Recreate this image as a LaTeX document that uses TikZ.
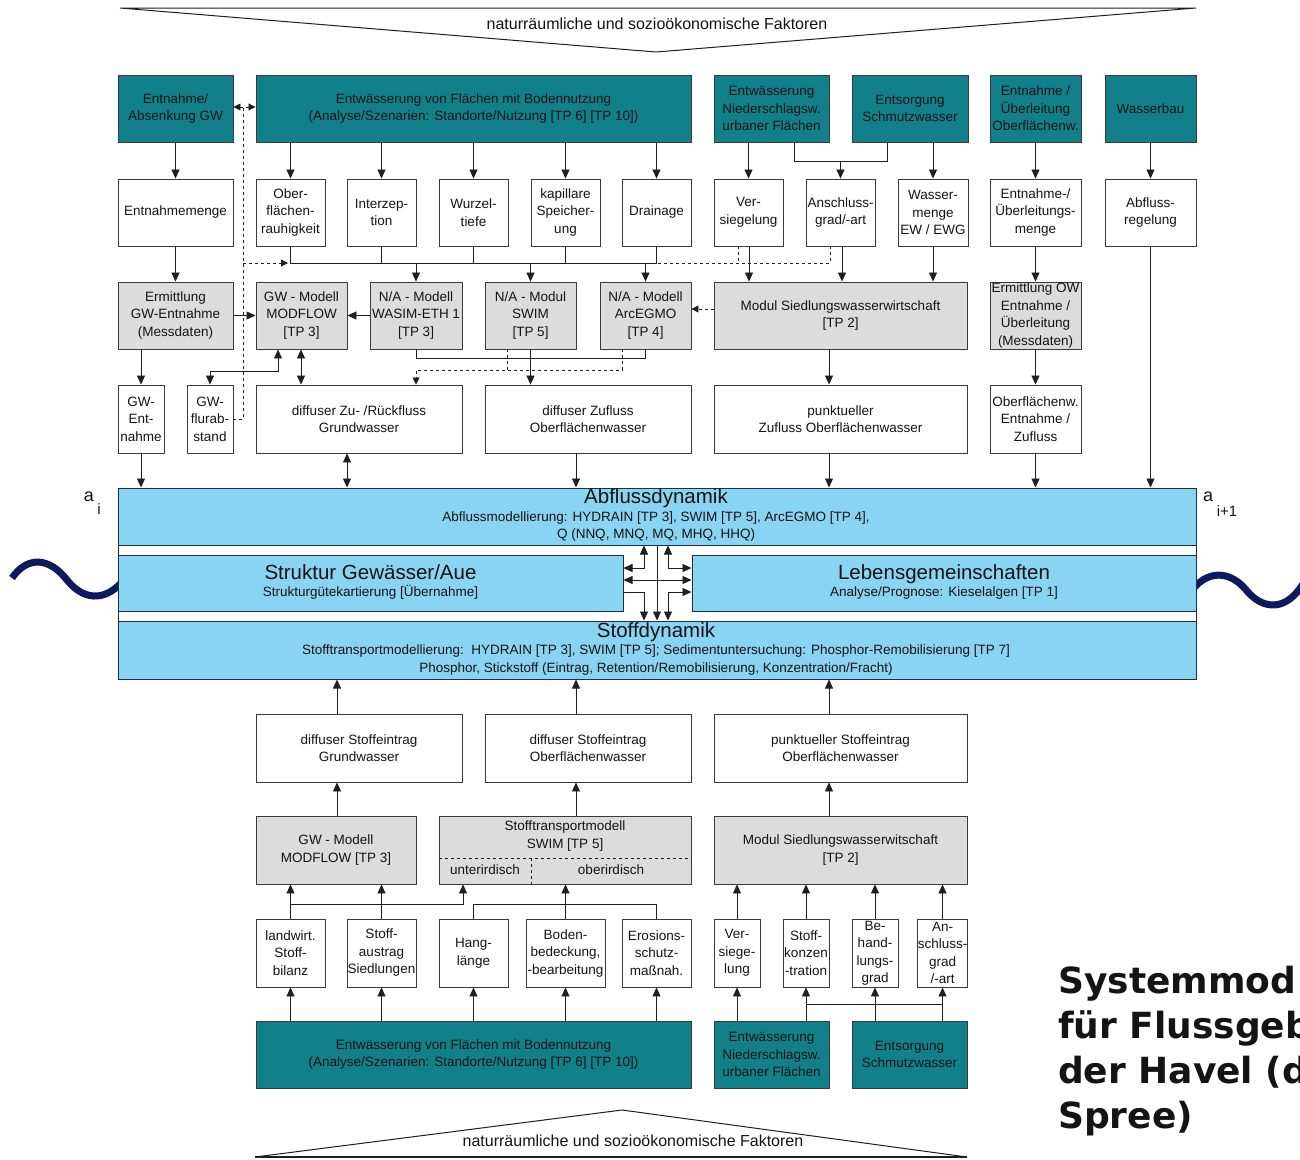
\documentclass[tikz,border=0pt]{standalone}
\usepackage{fontspec}
\setmainfont{Liberation Sans}
\newfontfamily\titlefont{DejaVu Sans}
\usetikzlibrary{arrows.meta}
\definecolor{teal2}{HTML}{12808A}
\definecolor{gbg}{HTML}{DCDCDC}
\definecolor{lblue}{HTML}{89D3F3}
\definecolor{navy2}{HTML}{0B1B5E}
\definecolor{bord}{HTML}{3A3A3A}
\definecolor{bandbord}{HTML}{1E2E48}
\newcommand\fsn{\fontsize{13.5}{17.5}\selectfont}
\newcommand\fsh{\fontsize{16}{19}\selectfont}
\newcommand\fst{\fontsize{20.5}{24}\selectfont}
\newcommand\mybox[7]{\node[#1, minimum width={(#5)-(#3)}, minimum height={(#6)-(#4)}] (#2) at ({((#3)+(#5))/2},{((#4)+(#6))/2}) {#7};}
\begin{document}
\begin{tikzpicture}[x=1pt,y=-1pt,
  every node/.style={inner sep=0pt, align=center, font=\fsn, text=black!92},
  basebox/.style={draw=bord, line width=0.9pt},
  tbox/.style={basebox, fill=teal2},
  wbox/.style={basebox, fill=white},
  gbox/.style={basebox, fill=gbg},
  bband/.style={draw=bandbord, line width=1pt, fill=lblue},
  con/.style={line width=0.8pt, draw=black!88},
  arr/.style={con, -{Triangle[length=9pt,width=8pt]}},
  darr/.style={con, {Triangle[length=9pt,width=8pt]}-{Triangle[length=9pt,width=8pt]}},
  dsh/.style={con, dash pattern=on 3pt off 3pt},
  sarr/.style={-{Triangle[length=7pt,width=7pt]}},
  dsarr/.style={{Triangle[length=7pt,width=7pt]}-{Triangle[length=7pt,width=7pt]}},
]
\useasboundingbox (0,0) rectangle (1300,1159);
\clip (0,0) rectangle (1300,1159);
\fill[white] (0,0) rectangle (1300,1159);

% header / footer
\draw[con, line width=1pt] (120,8) -- (1196,8) -- (656,52) -- cycle;
\node[anchor=base, font=\fsh] (hdr) at (657,29) {naturräumliche und sozioökonomische Faktoren};
\draw[con, line width=1pt] (255,1157) -- (622,1110) -- (967,1157);
\draw[con, line width=2pt] (255,1157) -- (967,1157);
\node[anchor=base, font=\fsh] (ftr) at (633,1146) {naturräumliche und sozioökonomische Faktoren};

% row 1
\mybox{tbox}{EA}{118}{75}{233}{142}{Entnahme/\\Absenkung GW}
\mybox{tbox}{EF}{256}{75}{691}{142}{Entwässerung von Flächen mit Bodennutzung\\(Analyse/Szenarien: Standorte/Nutzung [TP 6] [TP 10])}
\mybox{tbox}{EN}{714}{75}{829}{142}{Entwässerung\\Niederschlagsw.\\urbaner Flächen}
\mybox{tbox}{ES}{852}{75}{968}{142}{Entsorgung\\Schmutzwasser}
\mybox{tbox}{EU}{990}{75}{1081}{142}{Entnahme /\\Überleitung\\Oberflächenw.}
\mybox{tbox}{WB}{1105}{75}{1196}{142}{Wasserbau}
% row 2
\mybox{wbox}{EM}{118}{179}{233}{246}{Entnahmemenge}
\mybox{wbox}{OB}{256}{179}{325}{246}{Ober-\\flächen-\\rauhigkeit}
\mybox{wbox}{IZ}{347}{179}{416}{246}{Interzep-\\tion}
\mybox{wbox}{WT}{439}{179}{508}{246}{Wurzel-\\tiefe}
\mybox{wbox}{KS}{531}{179}{600}{246}{kapillare\\Speicher-\\ung}
\mybox{wbox}{DR}{622}{179}{691}{246}{Drainage}
\mybox{wbox}{VS}{714}{179}{783}{246}{Ver-\\siegelung}
\mybox{wbox}{AG}{806}{179}{875}{246}{Anschluss-\\grad/-art}
\mybox{wbox}{WM}{898}{179}{968}{246}{Wasser-\\menge\\EW / EWG}
\mybox{wbox}{UM}{990}{179}{1081}{246}{Entnahme-/\\Überleitungs-\\menge}
\mybox{wbox}{AR}{1105}{179}{1196}{246}{Abfluss-\\regelung}
% row 3
\mybox{gbox}{EG}{118}{282}{233}{349}{Ermittlung\\GW-Entnahme\\(Messdaten)}
\mybox{gbox}{MF}{256}{282}{347}{349}{GW - Modell\\MODFLOW\\{}[TP 3]}
\mybox{gbox}{WA}{370}{282}{462}{349}{N/A - Modell\\WASIM-ETH 1\\{}[TP 3]}
\mybox{gbox}{SW}{485}{282}{576}{349}{N/A - Modul\\SWIM\\{}[TP 5]}
\mybox{gbox}{AE}{600}{282}{691}{349}{N/A - Modell\\ArcEGMO\\{}[TP 4]}
\mybox{gbox}{MS}{714}{282}{967}{349}{Modul Siedlungswasserwirtschaft\\{}[TP 2]}
\mybox{gbox}{EO}{990}{282}{1081}{349}{Ermittlung OW\\Entnahme /\\Überleitung\\(Messdaten)}
% row 4
\mybox{wbox}{GE}{118}{385}{164}{453}{GW-\\Ent-\\nahme}
\mybox{wbox}{GF}{187}{385}{233}{453}{GW-\\flurab-\\stand}
\mybox{wbox}{DG}{256}{385}{462}{453}{diffuser Zu- /Rückfluss\\Grundwasser}
\mybox{wbox}{DO}{485}{385}{691}{453}{diffuser Zufluss\\Oberflächenwasser}
\mybox{wbox}{PZ}{714}{385}{967}{453}{punktueller\\Zufluss Oberflächenwasser}
\mybox{wbox}{OE}{990}{385}{1081}{453}{Oberflächenw.\\Entnahme /\\Zufluss}

% waves
\draw[navy2, line width=7pt] (12,578) .. controls (28,555) and (50,558) .. (67,580) .. controls (83,600) and (104,602) .. (122,582);
\draw[navy2, line width=7pt] (1192,590) .. controls (1208,570) and (1230,570) .. (1247,591) .. controls (1263,610) and (1287,612) .. (1304,582);

% central band
\draw[draw=bandbord, line width=1pt, fill=white] (118,488) rectangle (1196,679);
\mybox{bband}{AB}{118}{488}{1196}{545}{}
\mybox{bband}{ST}{118}{555}{623}{611}{}
\mybox{bband}{LG}{692}{555}{1196}{611}{}
\mybox{bband}{SD}{118}{621}{1196}{679}{}
\node[anchor=base, font=\fst] (ABt) at (656,503) {Abflussdynamik};
\node[anchor=base] (ABs1) at (656,521) {Abflussmodellierung: HYDRAIN [TP 3], SWIM [TP 5], ArcEGMO [TP 4],};
\node[anchor=base] (ABs2) at (656,538) {Q (NNQ, MNQ, MQ, MHQ, HHQ)};
\node[anchor=base, font=\fst] (STt) at (370.5,579) {Struktur Gewässer/Aue};
\node[anchor=base] (STs) at (370.5,596) {Strukturgütekartierung [Übernahme]};
\node[anchor=base, font=\fst] (LGt) at (944,579) {Lebensgemeinschaften};
\node[anchor=base] (LGs) at (944,596) {Analyse/Prognose: Kieselalgen [TP 1]};
\node[anchor=base, font=\fst] (SDt) at (656,637) {Stoffdynamik};
\node[anchor=base] (SDs1) at (656,654) {Stofftransportmodellierung:\ \ HYDRAIN [TP 3], SWIM [TP 5]; Sedimentuntersuchung: Phosphor-Remobilisierung [TP 7]};
\node[anchor=base] (SDs2) at (656,672) {Phosphor, Stickstoff (Eintrag, Retention/Remobilisierung, Konzentration/Fracht)};
% a_i labels
\node[font=\fontsize{18}{20}\selectfont] (ai) at (89,497) {a};
\node[font=\fontsize{15}{18}\selectfont] (aii) at (99,509) {i};
\node[font=\fontsize{18}{20}\selectfont] (aj) at (1208,497) {a};
\node[font=\fontsize{15}{18}\selectfont] (ajj) at (1227,511) {i+1};

% cluster
\draw[darr] (ST.east |- 0,568) -| (AB.south -| 644,0);
\draw[darr] (LG.west |- 0,568) -| (AB.south -| 668,0);
\draw[darr] (ST.east |- 0,580) -- (LG.west |- 0,580);
\draw[arr] (ST.east |- 0,592) -| (SD.north -| 644,0);
\draw[darr] (LG.west |- 0,592) -| (SD.north -| 668,0);
\draw[arr] (AB.south -| 657,0) -- (SD.north -| 657,0);

% lower boxes
\mybox{wbox}{SG}{256}{714}{462}{782}{diffuser Stoffeintrag\\Grundwasser}
\mybox{wbox}{SO}{485}{714}{691}{782}{diffuser Stoffeintrag\\Oberflächenwasser}
\mybox{wbox}{SP}{714}{714}{967}{782}{punktueller Stoffeintrag\\Oberflächenwasser}
\mybox{gbox}{M2}{256}{816}{416}{884}{GW - Modell\\MODFLOW [TP 3]}
\mybox{gbox}{S2}{439}{816}{691}{884}{}
\mybox{gbox}{D2}{714}{816}{967}{884}{Modul Siedlungswasserwitschaft\\{}[TP 2]}
\node (S2t) at (565,836) {Stofftransportmodell\\SWIM [TP 5]};
\draw[dsh] (S2.west |- 0,858) -- (S2.east |- 0,858);
\draw[dsh] (531,858) -- (S2.south -| 531,0);
\node (S2u) at (485,870) {unterirdisch};
\node (S2o) at (611,870) {oberirdisch};
\mybox{wbox}{LW}{256}{919}{325}{987}{landwirt.\\Stoff-\\bilanz}
\mybox{wbox}{SA}{347}{919}{416}{987}{Stoff-\\austrag\\Siedlungen}
\mybox{wbox}{HL}{439}{919}{508}{987}{Hang-\\länge}
\mybox{wbox}{BB}{526}{919}{605}{987}{Boden-\\bedeckung,\\-bearbeitung}
\mybox{wbox}{EM2}{622}{919}{691}{987}{Erosions-\\schutz-\\maßnah.}
\mybox{wbox}{V2}{714}{919}{760}{987}{Ver-\\siege-\\lung}
\mybox{wbox}{SK}{783}{919}{829}{987}{Stoff-\\konzen\\-tration}
\mybox{wbox}{BG}{852}{919}{898}{987}{Be-\\hand-\\lungs-\\grad}
\mybox{wbox}{AA}{918}{919}{967}{987}{An-\\schluss-\\grad\\/-art}
\mybox{tbox}{F2}{256}{1021}{691}{1088}{Entwässerung von Flächen mit Bodennutzung\\(Analyse/Szenarien: Standorte/Nutzung [TP 6] [TP 10])}
\mybox{tbox}{N2}{714}{1021}{829}{1088}{Entwässerung\\Niederschlagsw.\\urbaner Flächen}
\mybox{tbox}{E2}{852}{1021}{967}{1088}{Entsorgung\\Schmutzwasser}

% title
\node[anchor=base west, font=\titlefont\bfseries\fontsize{36}{45}\selectfont] (T1) at (1058,993) {Systemmod};
\node[anchor=base west, font=\titlefont\bfseries\fontsize{36}{45}\selectfont] (T2) at (1058,1038) {für Flussgeb};
\node[anchor=base west, font=\titlefont\bfseries\fontsize{36}{45}\selectfont] (T3) at (1058,1083) {der Havel (d};
\node[anchor=base west, font=\titlefont\bfseries\fontsize{36}{45}\selectfont] (T4) at (1058,1128) {Spree)};

% row1 -> row2
\draw[arr] (EA.south) -- (EM.north);
\foreach \n in {OB,IZ,WT,KS,DR} \draw[arr] (EF.south -| \n.north) -- (\n.north);
\draw[arr] (EN.south -| VS.north) -- (VS.north);
\draw[con] (EN.south -| 794,0) -- (794,161) -- (887,161) -- (ES.south -| 887,0);
\draw[arr] (AG.north |- 0,161) -- (AG.north);
\draw[arr] (ES.south -| WM.north) -- (WM.north);
\draw[arr] (EU.south) -- (UM.north);
\draw[arr] (WB.south) -- (AR.north);
% collector
\draw[con] (OB.south) -- (OB.south |- 0,263) -- (DR.south |- 0,263) -- (DR.south);
\foreach \n in {IZ,WT,KS} \draw[con] (\n.south) -- (\n.south |- 0,263);
\foreach \n in {WA,SW,AE} \draw[arr] (\n.north |- 0,263) -- (\n.north);
\draw[dsh] (VS.south -| 738,0) -- (738,263);
\draw[dsh] (AG.south -| 830,0) -- (830,263) -- (DR.south |- 0,263);
\draw[arr] (VS.south -| 749,0) -- (MS.north -| 749,0);
\draw[arr] (AG.south -| 842,0) -- (MS.north -| 842,0);
\draw[arr] (WM.south) -- (MS.north -| WM.south);
% dashed left
\draw[dsh, dsarr] (EA.east |- 0,107) -- (EF.west |- 0,107);
\coordinate (dl) at (243,263);
\draw[dsh] (GF.east) -- (243,419) -- (243,107);
\draw[dsh, sarr] (dl) -- (288,263);
% row 3
\draw[arr] (EM.south) -- (EG.north);
\draw[arr] (EG.east) -- (MF.west);
\draw[arr] (WA.west) -- (MF.east);
\draw[dsh, sarr] (MS.west |- 0,309) -- (AE.east |- 0,309);
\draw[arr] (UM.south) -- (EO.north);
% below row 3
\draw[con] (WA.south) -- (WA.south |- 0,358) -- (AE.south |- 0,358) -- (AE.south);
\draw[arr] (SW.south) -- (SW.south |- DO.north);
\draw[dsh] (SW.south -| 507,0) -- (507,370);
\draw[dsh, sarr] (AE.south -| 622,0) -- (622,370) -- (416,370) -- (DG.north -| 416,0);
\draw[arr] (EG.south -| GE.north) -- (GE.north);
\draw[darr] (MF.south -| 301,0) -- (DG.north -| 301,0);
\draw[darr] (GF.north) -- (GF.north |- 0,371) -- (278,371) -- (MF.south -| 278,0);
\draw[arr] (MS.south -| 829,0) -- (PZ.north -| 829,0);
\draw[arr] (EO.south) -- (OE.north);
% row4 -> band
\draw[arr] (GE.south) -- (AB.north -| GE.south);
\draw[darr] (DG.south -| 347,0) -- (AB.north -| 347,0);
\draw[arr] (DO.south -| 576,0) -- (AB.north -| 576,0);
\draw[arr] (PZ.south -| 829,0) -- (AB.north -| 829,0);
\draw[arr] (OE.south) -- (AB.north -| OE.south);
\draw[arr] (AR.south) -- (AB.north -| AR.south);
% lower part
\draw[arr] (SG.north -| 337,0) -- (SD.south -| 337,0);
\draw[arr] (SO.north -| 576,0) -- (SD.south -| 576,0);
\draw[arr] (SP.north -| 829,0) -- (SD.south -| 829,0);
\draw[arr] (M2.north -| 337,0) -- (SG.south -| 337,0);
\draw[arr] (S2.north -| 576,0) -- (SO.south -| 576,0);
\draw[arr] (D2.north -| 829,0) -- (SP.south -| 829,0);
\draw[arr] (LW.north) -- (M2.south -| LW.north);
\draw[arr] (SA.north) -- (M2.south -| SA.north);
\draw[arr] (LW.north |- 0,904) -- (463,904) -- (S2.south -| 463,0);
\draw[con] (HL.north) -- (HL.north |- 0,904) -- (EM2.north |- 0,904) -- (EM2.north);
\draw[arr] (BB.north) -- (S2.south -| BB.north);
\foreach \n in {V2,SK,BG,AA} \draw[arr] (\n.north) -- (D2.south -| \n.north);
\foreach \n in {LW,SA,HL,BB,EM2} \draw[arr] (F2.north -| \n.south) -- (\n.south);
\draw[arr] (N2.north -| V2.south) -- (V2.south);
\draw[arr] (N2.north -| SK.south) -- (SK.south);
\draw[arr] (E2.north -| BG.south) -- (BG.south);
\draw[arr] (E2.north -| AA.south) -- (AA.south);
\draw[con] (SK.south |- 0,1004) -- (AA.south |- 0,1004);
\end{tikzpicture}
\end{document}
